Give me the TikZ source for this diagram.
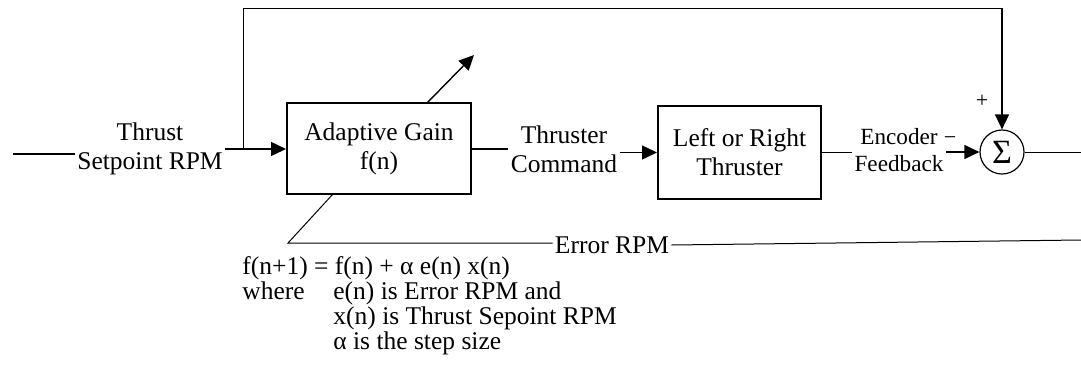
\documentclass[tikz,border=0pt]{standalone}
\usepackage{fontspec}
\setmainfont{Liberation Serif}
\usetikzlibrary{arrows.meta}
\begin{document}
\begin{tikzpicture}[x=0.5pt,y=-0.5pt,
  font=\fontsize{12.75}{14.5}\selectfont,
  block/.style={draw,line width=1pt,align=center,inner sep=0pt},
  lbl/.style={align=center,inner sep=1pt},
  note/.style={anchor=base west,inner sep=0pt},
  wire/.style={line width=0.7pt},
  thinwire/.style={line width=0.5pt},
  flow/.style={wire,-{Triangle[length=7.5pt,width=7pt]}},
  sumnode/.style={draw,circle,line width=0.6pt,minimum size=22pt,inner sep=0pt}]
\useasboundingbox (0,0) rectangle (1081,376);

% blocks and summing junction
\node[block,minimum width=92pt,minimum height=45.5pt] (gain) at (379,148.5) {Adaptive Gain\\f(n)};
\node[block,minimum width=81.5pt,minimum height=46.5pt] (thr) at (739.5,152.5) {Left or Right\\Thruster};
\node[sumnode] (sum) at (1002,152) {\fontsize{17}{17}\selectfont Σ};

% signal labels
\node[lbl] (sp) at (150,149) {Thrust\\Setpoint RPM};
\node[lbl] (cmd) at (564,149) {Thruster\\Command};
\node[lbl,font=\fontsize{11.6}{13.5}\selectfont] (enc) at (899,150) {Encoder\\Feedback};
\node[lbl] (err) at (612,245) {Error RPM};
\node[inner sep=0pt,font=\fontsize{11}{11}\selectfont] (plus) at (982,101) {+};
\node[inner sep=0pt,font=\fontsize{11}{11}\selectfont] (minus) at (950,141) {−};

% free ends and corners
\coordinate (in) at (13,154);
\coordinate (br) at (243,149);
\coordinate (topL) at (243,8);
\coordinate (topR) at (1002,8);
\coordinate (out) at (1081,150);
\coordinate (adT) at (474,55);
\coordinate (adS) at (427,103);
\coordinate (adB) at (333,194);
\coordinate (adL) at (288,243);
\coordinate (errR) at (1081,240);

% forward path
\draw[wire] (in) -- (in -| sp.west);
\draw[flow] (sp.east |- br) -- (gain.west |- br);
\draw[wire] (gain.east |- cmd.west) -- (cmd.west);
\draw[flow] (cmd.east |- thr.west) -- (thr.west);
\draw[wire] (thr.east) -- (thr.east -| enc.west);
\draw[flow] (enc.east |- sum.west) -- (sum.west);
\draw[thinwire] (sum.east) -- (sum.east -| out);

% setpoint branch to the summing junction
\draw[thinwire] (br) -- (topL) -- (topR);
\draw[flow] (topR) -- (sum.north);

% adaptation arrow through the gain block
\draw[flow] (adS) -- (adT);
\draw[thinwire] (adB) -- (adL) -- (err.west |- adL);
\draw[thinwire] (err.east) -- (errR);

% update rule
\node[note] (eq) at (242,274) {f(n+1) = f(n) + α e(n) x(n)};
\node[note] (wh) at (242,299) {where};
\node[note] (l1) at (333,299) {e(n) is Error RPM and};
\node[note] (l2) at (333,324) {x(n) is Thrust Sepoint RPM};
\node[note] (l3) at (333,349) {α is the step size};
\end{tikzpicture}
\end{document}
